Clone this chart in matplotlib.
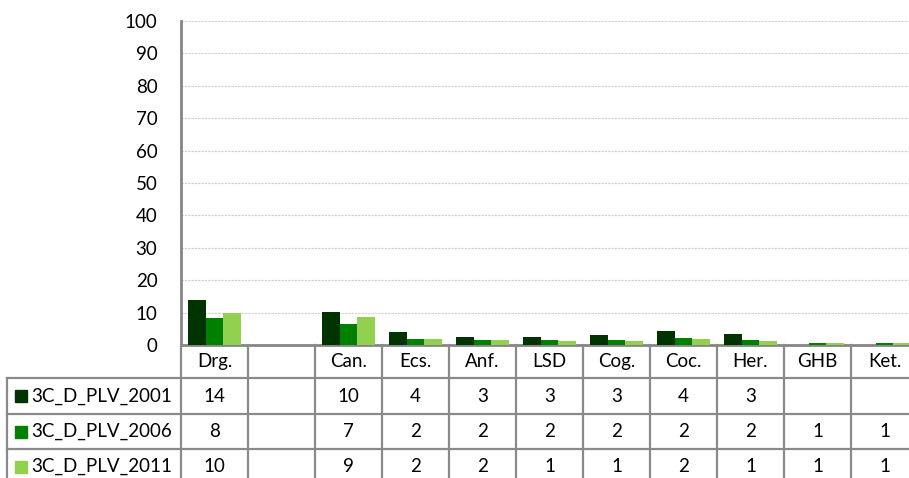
import numpy as np
import matplotlib.pyplot as plt
import matplotlib.transforms as mtransforms

categories = ['Drg.', '', 'Can.', 'Ecs.', 'Anf.', 'LSD', 'Cog.', 'Coc.', 'Her.', 'GHB', 'Ket.']
series_names = ['3C_D_PLV_2001', '3C_D_PLV_2006', '3C_D_PLV_2011']
plv_2001 = [13.8, np.nan, 10.2, 4.1, 2.6, 2.6, 3.2, 4.3, 3.3, np.nan, np.nan]
plv_2006 = [8.2, np.nan, 6.6, 2.0, 1.6, 1.5, 1.5, 2.1, 1.6, 0.7, 0.6]
plv_2011 = [10.0, np.nan, 8.6, 1.8, 1.5, 1.1, 1.2, 1.7, 1.2, 0.5, 0.5]
colors = ['#003300', '#008000', '#92D050']

plt.rcParams['font.family'] = ['Lato', 'DejaVu Sans']
fs = 13.5

W, H = 909, 478
fig = plt.figure(figsize=(W / 100, H / 100), dpi=100)
# axes extends a bit past the right edge, like the original
left_px, right_px, top_px, bot_px = 181, 918, 21, 345
ax = fig.add_axes([left_px / W, 1 - bot_px / H, (right_px - left_px) / W, (bot_px - top_px) / H])

x = np.arange(len(categories))
bw = 0.265
for i, (vals, c) in enumerate(zip([plv_2001, plv_2006, plv_2011], colors)):
    ax.bar(x + (i - 1) * bw, vals, width=bw, color=c, zorder=3)

ax.set_xlim(-0.5, len(categories) - 0.5)
ax.set_ylim(0, 100)
ax.set_yticks(range(0, 101, 10))
ax.set_xticks([])
ax.tick_params(axis='y', length=0, pad=17, labelsize=fs)
ax.grid(axis='y', color='#d0d0d0', linestyle=(0, (2, 1)), linewidth=0.8, zorder=0)
for s in ['top', 'right']:
    ax.spines[s].set_visible(False)
ax.spines['left'].set_color('#868686')
ax.spines['left'].set_linewidth(2)
ax.spines['bottom'].set_color('#868686')
ax.spines['bottom'].set_linewidth(2)

# data table under the plot
trans = mtransforms.blended_transform_factory(ax.transData, fig.transFigure)
row_px = [345, 378, 414, 449, 484]
def fy(p):
    return 1 - p / H

lc = '#8a8a8a'
# vertical lines between columns
for k in range(len(categories) + 1):
    fig.add_artist(plt.Line2D([k - 0.5, k - 0.5], [fy(row_px[0]), fy(row_px[-1])],
                              transform=trans, color=lc, lw=1.6))
# horizontal lines
for p in row_px[1:]:
    fig.add_artist(plt.Line2D([7 / W, 1], [fy(p), fy(p)], transform=fig.transFigure, color=lc, lw=1.6))
fig.add_artist(plt.Line2D([7 / W, 7 / W], [fy(row_px[1]), fy(row_px[-1])],
                          transform=fig.transFigure, color=lc, lw=1.6))

# header row
for k, cat in enumerate(categories):
    fig.text(k, fy((row_px[0] + row_px[1]) / 2), cat, transform=trans,
             ha='center', va='center', fontsize=fs)

# series rows
for r, (name, vals, c) in enumerate(zip(series_names, [plv_2001, plv_2006, plv_2011], colors)):
    yc = fy((row_px[r + 1] + row_px[r + 2]) / 2)
    fig.add_artist(plt.Rectangle((15 / W, yc - 6 / H), 12 / W, 12 / H,
                                 transform=fig.transFigure, color=c))
    fig.text(31 / W, yc, name, ha='left', va='center', fontsize=fs)
    for k, v in enumerate(vals):
        if not np.isnan(v):
            fig.text(k, yc, str(int(np.floor(v + 0.5))), transform=trans,
                     ha='center', va='center', fontsize=fs)

fig.savefig('out.png', dpi=100)
